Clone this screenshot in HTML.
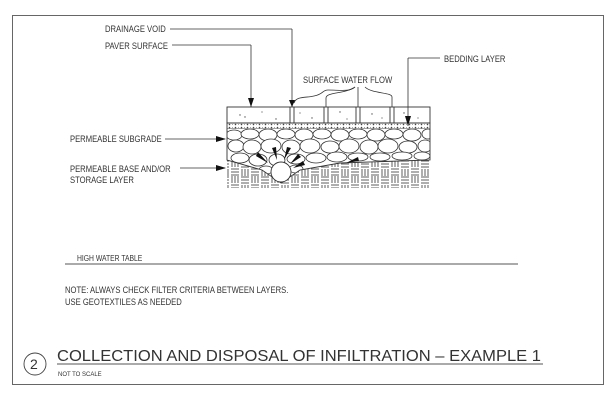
<!DOCTYPE html>
<html><head><meta charset="utf-8"><style>
html,body{margin:0;padding:0;background:#fff;}
svg{display:block;}
text{font-family:"Liberation Sans",sans-serif;fill:#333;}
.l{font-size:9px;}
</style></head><body>
<svg width="616" height="402" viewBox="0 0 616 402" xmlns="http://www.w3.org/2000/svg">
<rect x="12.5" y="15.5" width="591" height="369" fill="none" stroke="#666" stroke-width="1"/>
<defs>
<clipPath id="stone"><path d="M227 129 H430 V160 L340 163 L300 170 L281 183 L262 170 L235 162 L227 160 Z"/></clipPath>
<pattern id="weave" width="20" height="16" patternUnits="userSpaceOnUse">
<g stroke="#333" stroke-width="0.8" fill="none">
<line x1="1" y1="1" x2="9" y2="1"/><line x1="1" y1="4" x2="9" y2="4"/><line x1="1" y1="7" x2="9" y2="7"/>
<line x1="12" y1="0" x2="12" y2="7"/><line x1="15" y1="0" x2="15" y2="7"/><line x1="18" y1="0" x2="18" y2="7"/>
<line x1="2" y1="9" x2="2" y2="16"/><line x1="5" y1="9" x2="5" y2="16"/><line x1="8" y1="9" x2="8" y2="16"/>
<line x1="11" y1="9" x2="19" y2="9"/><line x1="11" y1="12" x2="19" y2="12"/><line x1="11" y1="15" x2="19" y2="15"/>
</g></pattern>
<pattern id="dots" width="6" height="3" patternUnits="userSpaceOnUse"><circle cx="1.5" cy="1.5" r="0.8" fill="#444"/><circle cx="4.5" cy="1.5" r="0.5" fill="#888"/></pattern>
</defs>
<g stroke="#333" stroke-width="0.9" fill="none">
<rect x="227" y="107" width="203" height="16"/>
<line x1="290" y1="107" x2="290" y2="123"/><line x1="294" y1="107" x2="294" y2="123"/>
<line x1="324" y1="107" x2="324" y2="123"/><line x1="328" y1="107" x2="328" y2="123"/>
<line x1="356" y1="107" x2="356" y2="123"/><line x1="360" y1="107" x2="360" y2="123"/>
<line x1="390" y1="107" x2="390" y2="123"/><line x1="394" y1="107" x2="394" y2="123"/>
</g>
<g fill="#555">
<circle cx="240" cy="115" r="0.7"/><circle cx="245" cy="117" r="0.7"/><circle cx="262" cy="112" r="0.6"/><circle cx="276" cy="119" r="0.7"/><circle cx="300" cy="113" r="0.6"/><circle cx="312" cy="118" r="0.7"/><circle cx="340" cy="112" r="0.7"/><circle cx="347" cy="119" r="0.6"/><circle cx="372" cy="114" r="0.7"/><circle cx="382" cy="118" r="0.6"/><circle cx="404" cy="113" r="0.7"/><circle cx="418" cy="118" r="0.6"/>
</g>
<rect x="227" y="123" width="203" height="6" fill="url(#dots)" stroke="#333" stroke-width="0.9"/>
<g clip-path="url(#stone)" stroke="#333" stroke-width="0.8" fill="#fff">
<rect x="227" y="129" width="203" height="55" fill="#fff" stroke="none"/>
<ellipse cx="234" cy="135" rx="8" ry="5"/><ellipse cx="250" cy="134" rx="9" ry="5"/><ellipse cx="268" cy="135" rx="9" ry="6"/><ellipse cx="286" cy="134" rx="9" ry="5"/><ellipse cx="304" cy="135" rx="9" ry="6"/><ellipse cx="322" cy="134" rx="9" ry="5"/><ellipse cx="340" cy="135" rx="9" ry="6"/><ellipse cx="358" cy="134" rx="9" ry="5"/><ellipse cx="376" cy="135" rx="9" ry="6"/><ellipse cx="394" cy="134" rx="9" ry="5"/><ellipse cx="412" cy="135" rx="9" ry="6"/><ellipse cx="428" cy="134" rx="6" ry="5"/>
<ellipse cx="236" cy="146" rx="8" ry="6"/><ellipse cx="252" cy="147" rx="9" ry="7"/><ellipse cx="271" cy="146" rx="10" ry="7"/><ellipse cx="291" cy="147" rx="9" ry="7"/><ellipse cx="310" cy="146" rx="10" ry="7"/><ellipse cx="330" cy="147" rx="9" ry="6"/><ellipse cx="349" cy="146" rx="10" ry="7"/><ellipse cx="369" cy="147" rx="9" ry="7"/><ellipse cx="388" cy="146" rx="10" ry="7"/><ellipse cx="408" cy="147" rx="9" ry="6"/><ellipse cx="425" cy="146" rx="7" ry="6"/>
<ellipse cx="240" cy="158" rx="9" ry="5"/><ellipse cx="258" cy="160" rx="9" ry="6"/><ellipse cx="277" cy="160" rx="8" ry="6"/><ellipse cx="296" cy="159" rx="9" ry="5"/><ellipse cx="316" cy="158" rx="10" ry="5"/><ellipse cx="337" cy="157" rx="10" ry="5"/><ellipse cx="358" cy="157" rx="10" ry="4"/><ellipse cx="380" cy="157" rx="10" ry="4"/><ellipse cx="402" cy="156" rx="10" ry="4"/><ellipse cx="422" cy="156" rx="8" ry="4"/>
<ellipse cx="266" cy="170" rx="7" ry="4"/><ellipse cx="296" cy="169" rx="7" ry="4"/>
</g>
<path d="M227 129 V160 L262 170 L281 183 L300 170 L340 163 L430 160 V129" fill="none" stroke="#333" stroke-width="0.9"/>
<path d="M227 160 L262 170 L281 183 L300 170 L340 163 L430 160 V188 H227 Z" fill="url(#weave)" stroke="none"/>
<circle cx="281" cy="172" r="10" fill="#fff" stroke="#333" stroke-width="0.9"/>
<g fill="#111">
<polygon points="268,163 256,156 258,152"/>
<polygon points="277,160 272,148 276,147"/>
<polygon points="284,160 287,147 291,148"/>
<polygon points="290,164 298,154 301,157"/>
<polygon points="293,168 303,161 305,165"/>
<polygon points="346,163 358,157 359,161"/>
</g>
<g stroke="#333" stroke-width="0.8" fill="none">
<line x1="170" y1="29" x2="292" y2="29"/><line x1="292" y1="29" x2="292" y2="107"/>
<line x1="172" y1="45" x2="251" y2="45"/><line x1="251" y1="45" x2="251" y2="107"/>
<line x1="408" y1="58" x2="440" y2="58"/><line x1="408" y1="58" x2="408" y2="126"/>
<line x1="165" y1="139" x2="225" y2="139"/>
<line x1="180" y1="168" x2="225" y2="168"/>
<path d="M294 103 C296 96 306 98 314 96 C324 94 322 90 328 90 C340 90 350 92 355 87"/>
<path d="M326 107 V98 C326 92 345 94 355 87"/>
<path d="M358 107 V87"/>
<path d="M392 107 V97 C392 92 372 94 365 87"/>
</g>
<g fill="#111">
<polygon points="289,100 295,100 292,107"/>
<polygon points="248,98 254,98 251,107"/>
<polygon points="405,116 411,116 408,126"/>
<polygon points="216,136 216,142 226,139"/>
<polygon points="216,165 216,171 226,168"/>
</g>
<g class="l">
<text x="105" y="32" transform="translate(105 0) scale(0.85 1) translate(-105 0)">DRAINAGE  VOID</text>
<text x="105" y="49" transform="translate(105 0) scale(0.85 1) translate(-105 0)">PAVER  SURFACE</text>
<text x="444" y="62" transform="translate(444 0) scale(0.85 1) translate(-444 0)">BEDDING  LAYER</text>
<text x="303" y="83" transform="translate(303 0) scale(0.85 1) translate(-303 0)">SURFACE  WATER  FLOW</text>
<text x="70" y="142" transform="translate(70 0) scale(0.85 1) translate(-70 0)">PERMEABLE  SUBGRADE</text>
<text x="70" y="172" transform="translate(70 0) scale(0.85 1) translate(-70 0)">PERMEABLE  BASE  AND/OR</text>
<text x="70" y="183" transform="translate(70 0) scale(0.85 1) translate(-70 0)">STORAGE  LAYER</text>
<text x="77" y="261" font-size="8" transform="translate(77 0) scale(0.85 1) translate(-77 0)">HIGH  WATER  TABLE</text>
<text x="65" y="293" transform="translate(65 0) scale(0.85 1) translate(-65 0)">NOTE:  ALWAYS  CHECK  FILTER  CRITERIA  BETWEEN  LAYERS.</text>
<text x="65" y="305" transform="translate(65 0) scale(0.85 1) translate(-65 0)">USE  GEOTEXTILES  AS  NEEDED</text>
</g>
<line x1="65" y1="264" x2="518" y2="264" stroke="#555" stroke-width="0.9"/>
<circle cx="35" cy="364" r="11" fill="none" stroke="#444" stroke-width="0.9"/>
<text x="30" y="369" font-size="14" fill="#444">2</text>
<text x="57" y="361" font-size="15.5" fill="#555" textLength="484" lengthAdjust="spacingAndGlyphs">COLLECTION  AND  DISPOSAL  OF  INFILTRATION  –  EXAMPLE  1</text>
<line x1="57" y1="364" x2="543" y2="364" stroke="#555" stroke-width="1"/>
<text x="58" y="376" font-size="6" fill="#444">NOT TO SCALE</text>
</svg>
</body></html>
